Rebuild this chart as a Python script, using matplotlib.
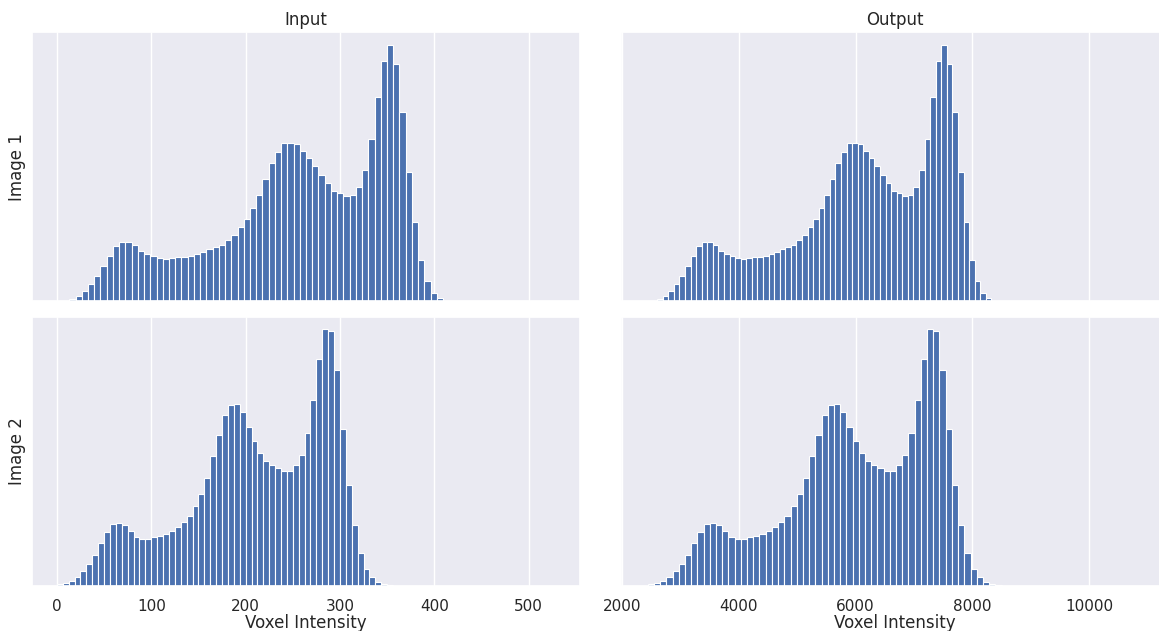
#histograms of voxel intensity before and after the intensity mapping

import numpy as np
import matplotlib
matplotlib.use("Agg")
from matplotlib import pyplot as plt
import seaborn as sns

sns.set()
plt.rcParams['font.family'] = ['DejaVu Sans']
plt.rcParams['xtick.labelsize'] = 11
plt.rcParams['axes.labelsize'] = 12
plt.rcParams['axes.titlesize'] = 12
plt.rcParams['xtick.major.pad'] = 3

# bin counts (relative), 80 bins each; output uses the same counts on its own range
counts_img1 = [0.7, 0.7, 2.7, 5.3, 10.0, 17.3, 25.3, 35.3, 45.3, 55.3,
               59.0, 59.0, 56.0, 50.3, 47.0, 45.3, 43.3, 42.7, 43.3, 44.7,
               44.3, 45.7, 47.3, 49.3, 52.3, 54.0, 56.3, 61.7, 66.3, 74.0,
               82.3, 93.7, 106.3, 122.0, 138.3, 149.0, 158.7, 158.7, 157.7, 150.3,
               143.7, 135.3, 126.0, 118.3, 110.7, 108.3, 105.0, 106.3, 114.7, 131.7,
               162.7, 204.3, 241.0, 256.7, 237.3, 189.7, 129.7, 79.3, 41.7, 20.3,
               8.3, 3.0, 0.7, 0.3, 0.1, 0.05, 0.03, 0.02, 0.01, 0.01,
               0.01, 0.0, 0.0, 0.01, 0.0, 0.0, 0.0, 0.0, 0.0, 0.01]
counts_img2 = [1.7, 3.0, 5.3, 9.3, 14.7, 22.3, 31.3, 43.3, 54.0, 62.3,
               63.3, 61.3, 54.7, 49.3, 47.3, 46.7, 48.7, 50.3, 52.3, 55.0,
               58.7, 64.3, 70.3, 79.7, 92.0, 108.3, 130.0, 151.7, 171.3, 181.7,
               182.7, 174.3, 159.3, 145.0, 133.3, 125.3, 120.7, 118.0, 115.3, 115.3,
               121.0, 131.3, 153.3, 186.0, 227.3, 257.0, 255.3, 216.0, 157.0, 101.0,
               61.0, 33.0, 17.3, 8.7, 4.3, 1.7, 0.7, 0.2, 0.1, 0.05,
               0.03, 0.02, 0.01, 0.01, 0.0, 0.0, 0.01, 0.0, 0.0, 0.0,
               0.0, 0.0, 0.0, 0.0, 0.0, 0.0, 0.0, 0.0, 0.0, 0.01]

# intensity range (min, max) of each image
range_in = [(0, 528), (0, 500)]
range_out = [(2415, 10039), (2444, 10940)]

n_bins = 80
cols = ["Input", "Output"]
rows = ["Image 1", "Image 2"]

fig, axes = plt.subplots(2, 2, sharex='col', figsize=(11.59, 6.31), dpi=100)
plt.subplots_adjust(left=0.0276, right=1.0088, top=0.9493, bottom=0.0713,
                    wspace=0.075, hspace=0.056)

counts = [counts_img1, counts_img2]
for i in range(2):
    for j, rng in enumerate([range_in[i], range_out[i]]):
        ax = axes[i, j]
        edges = np.linspace(rng[0], rng[1], n_bins + 1)
        centers = (edges[:-1] + edges[1:]) / 2
        ax.hist(centers, bins=edges, weights=counts[i], color="#4C72B0",
                linewidth=0.8)
        ax.set_yticks([])
        if i == 0:
            ax.set_title(cols[j], pad=5)
        else:
            ax.set_xlabel("Voxel Intensity", labelpad=0)
        if j == 0:
            ax.set_ylabel(rows[i], labelpad=4)

plt.savefig("out.png")
